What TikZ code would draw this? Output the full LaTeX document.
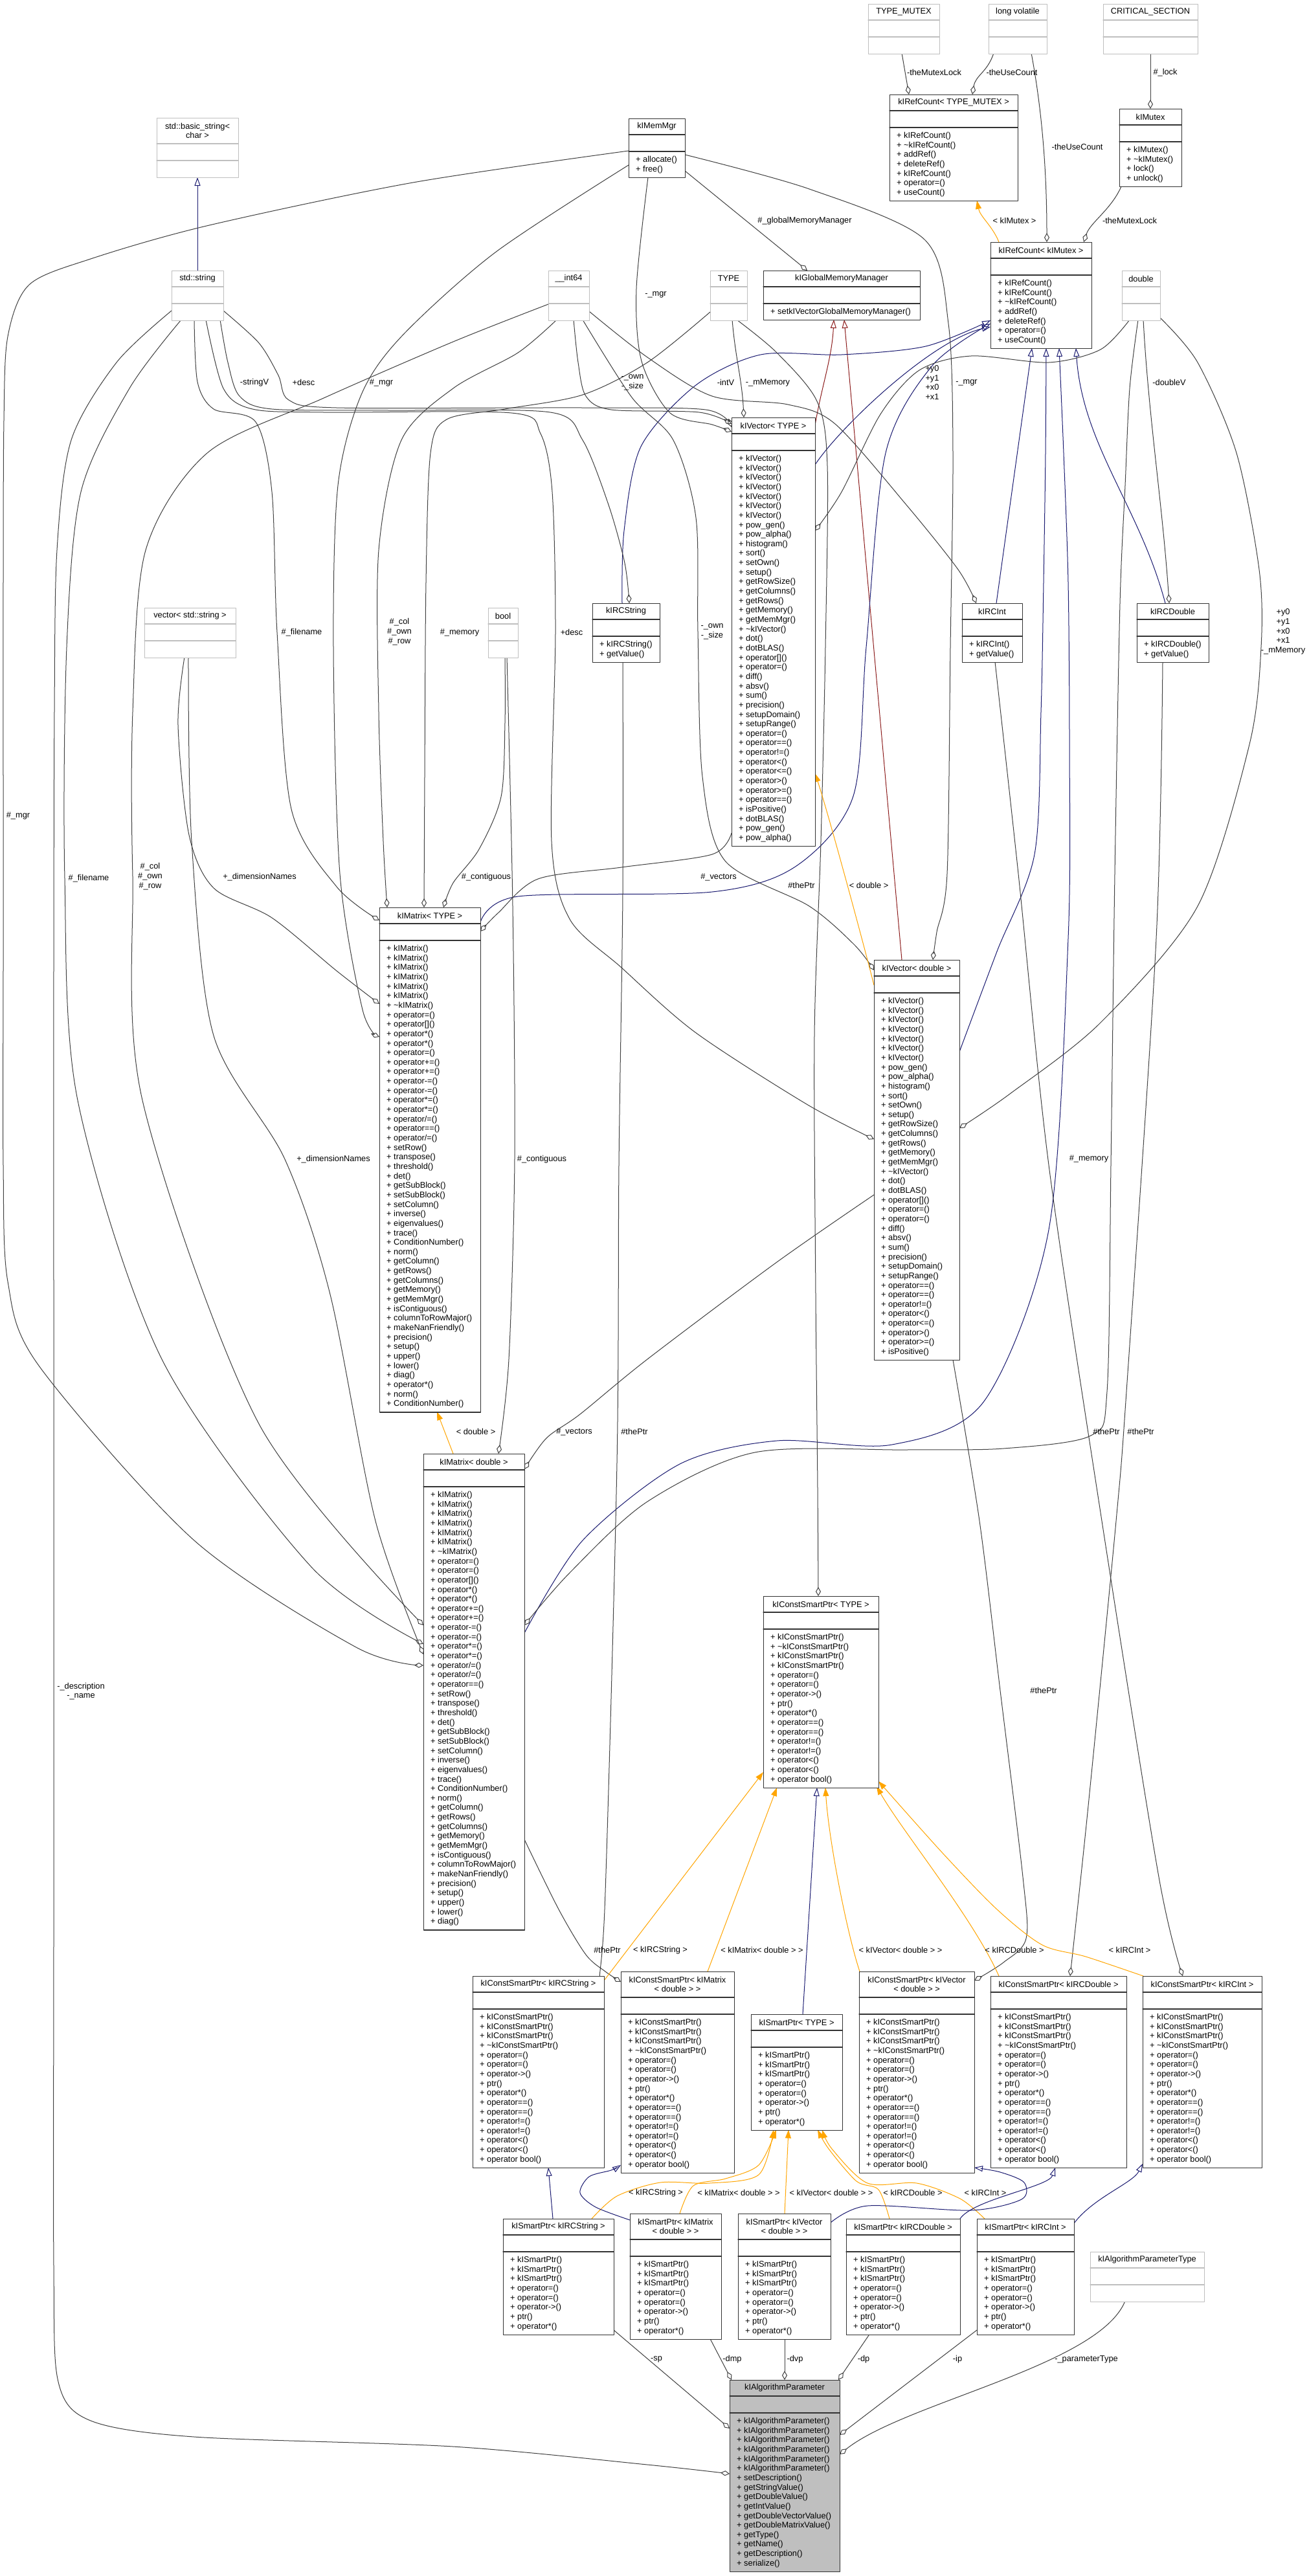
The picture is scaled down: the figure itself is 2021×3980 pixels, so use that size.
\documentclass[tikz,border=0pt]{standalone}
\usepackage{fontspec}
\setmainfont{Liberation Sans}
\usetikzlibrary{arrows.meta}
\pgfdeclarelayer{bg}
\pgfsetlayers{bg,main}

\definecolor{edgegray}{HTML}{404040}
\definecolor{navy}{HTML}{191970}
\definecolor{darkred}{HTML}{8B1A1A}
\definecolor{boxgray}{HTML}{BFBFBF}
\definecolor{tmplorange}{HTML}{FFA500}
\newcommand{\clsfont}{\fontsize{12.8}{14.65}\selectfont}

\tikzset{
  clsbox/.style={draw=black!80, line width=1.3pt, fill=white, inner sep=0pt, anchor=north west},
  clsboxline/.style={draw=black!80, line width=1.3pt},
  focbox/.style={clsbox, fill=boxgray},
  focboxline/.style={clsboxline},
  extbox/.style={draw=boxgray, line width=1.3pt, fill=white, inner sep=0pt, anchor=north west},
  extline/.style={draw=boxgray, line width=1.3pt},
  ttl/.style={inner sep=0pt, align=center},
  memb/.style={inner sep=0pt, align=left, anchor=north west},
  lbl/.style={inner sep=0pt, align=center},
  comp/.style={draw=edgegray, line width=1pt, -{Diamond[open, length=14pt, width=8pt]}},
  pub/.style={draw=navy, line width=1pt, -{Triangle[open, length=13pt, width=9pt]}},
  priv/.style={draw=darkred, line width=1pt, -{Triangle[open, length=13pt, width=9pt]}},
  tmpl/.style={draw=tmplorange, line width=1pt, -{Triangle[length=13pt, width=9pt]}},
}

% class box: [style] name, x, y, width, title height, member lines, title, members
\newcommand{\umlclass}[9][clsbox]{%
  \pgfmathsetmacro{\clsh}{#6+51+(#7-1)*14.65}%
  \node[#1, minimum width=#5pt, minimum height=\clsh pt] (#2) at (#3,#4) {};
  \draw[#1line] ([shift={(0,#6)}]#2.north west) -- ++(#5,0);
  \draw[#1line] ([shift={(0,#6+26)}]#2.north west) -- ++(#5,0);
  \node[ttl] (#2-t) at ([shift={(#5/2,#6/2)}]#2.north west) {#8};
  \node[memb] (#2-m) at ([shift={(11,#6+33)}]#2.north west) {#9};
}
% class without members: name, x, y, width, title height, title
\newcommand{\extclass}[6]{%
  \pgfmathsetmacro{\clsh}{#5+52}%
  \node[extbox, minimum width=#4pt, minimum height=\clsh pt] (#1) at (#2,#3) {};
  \draw[extline] ([shift={(0,#5)}]#1.north west) -- ++(#4,0);
  \draw[extline] ([shift={(0,#5+26)}]#1.north west) -- ++(#4,0);
  \node[ttl] (#1-t) at ([shift={(#4/2,#5/2)}]#1.north west) {#6};
}

\newcommand{\cspmembers}{+ kIConstSmartPtr()\\+ kIConstSmartPtr()\\+ kIConstSmartPtr()\\+ \textasciitilde kIConstSmartPtr()\\+ operator=()\\+ operator=()\\+ operator->()\\+ ptr()\\+ operator*()\\+ operator==()\\+ operator==()\\+ operator!=()\\+ operator!=()\\+ operator<()\\+ operator<()\\+ operator bool()}
\newcommand{\spmembers}{+ kISmartPtr()\\+ kISmartPtr()\\+ kISmartPtr()\\+ operator=()\\+ operator=()\\+ operator->()\\+ ptr()\\+ operator*()}

\begin{document}
\begin{tikzpicture}[x=1pt, y=-1pt, font=\clsfont, line join=round, line cap=round]
\useasboundingbox (0,0) rectangle (2021,3980);

% plain types
\extclass{tmx}{1341}{6}{110}{25}{TYPE\_MUTEX}
\extclass{lv}{1527}{6}{90}{25}{long volatile}
\extclass{cs}{1704}{6}{146}{25}{CRITICAL\_SECTION}
\extclass{bstr}{242}{182}{126}{40}{std::basic\_string<\\ char >}
\extclass{type}{1097}{418}{57}{25}{TYPE}
\extclass{dbl}{1733}{418}{59}{25}{double}
\extclass{sstr}{265}{418}{80}{25}{std::string}
\extclass{i64}{847}{418}{63}{25}{\_\_int64}
\extclass{vstr}{223}{939}{141}{25}{vector< std::string >}
\extclass{bool}{754}{939}{46}{25}{bool}
\extclass{ptype}{1684}{3479}{176}{25}{kIAlgorithmParameterType}

% classes
\umlclass{rcTM}{1374}{146}{198}{25}{7}{kIRefCount< TYPE\_MUTEX >}{+ kIRefCount()\\+ \textasciitilde kIRefCount()\\+ addRef()\\+ deleteRef()\\+ kIRefCount()\\+ operator=()\\+ useCount()}
\umlclass{mutex}{1729}{168}{96}{25}{4}{kIMutex}{+ kIMutex()\\+ \textasciitilde kIMutex()\\+ lock()\\+ unlock()}
\umlclass{memmgr}{971}{183}{87}{25}{2}{kIMemMgr}{+ allocate()\\+ free()}
\umlclass{rcMx}{1530}{374}{156}{25}{7}{kIRefCount< kIMutex >}{+ kIRefCount()\\+ kIRefCount()\\+ \textasciitilde kIRefCount()\\+ addRef()\\+ deleteRef()\\+ operator=()\\+ useCount()}
\umlclass{gmm}{1179}{418}{242}{25}{1}{kIGlobalMemoryManager}{+ setkIVectorGlobalMemoryManager()}
\umlclass{vecT}{1130}{645}{129}{25}{41}{kIVector< TYPE >}{+ kIVector()\\+ kIVector()\\+ kIVector()\\+ kIVector()\\+ kIVector()\\+ kIVector()\\+ kIVector()\\+ pow\_gen()\\+ pow\_alpha()\\+ histogram()\\+ sort()\\+ setOwn()\\+ setup()\\+ getRowSize()\\+ getColumns()\\+ getRows()\\+ getMemory()\\+ getMemMgr()\\+ \textasciitilde kIVector()\\+ dot()\\+ dotBLAS()\\+ operator[]()\\+ operator=()\\+ diff()\\+ absv()\\+ sum()\\+ precision()\\+ setupDomain()\\+ setupRange()\\+ operator=()\\+ operator==()\\+ operator!=()\\+ operator<()\\+ operator<=()\\+ operator>()\\+ operator>=()\\+ operator==()\\+ isPositive()\\+ dotBLAS()\\+ pow\_gen()\\+ pow\_alpha()}
\umlclass{rcint}{1486}{932}{93}{25}{2}{kIRCInt}{+ kIRCInt()\\+ getValue()}
\umlclass{rcdbl}{1756}{932}{111}{25}{2}{kIRCDouble}{+ kIRCDouble()\\+ getValue()}
\umlclass{rcstr}{915}{932}{104}{25}{2}{kIRCString}{+ kIRCString()\\+ getValue()}
\umlclass{matT}{586}{1402}{156}{25}{49}{kIMatrix< TYPE >}{+ kIMatrix()\\+ kIMatrix()\\+ kIMatrix()\\+ kIMatrix()\\+ kIMatrix()\\+ kIMatrix()\\+ \textasciitilde kIMatrix()\\+ operator=()\\+ operator[]()\\+ operator*()\\+ operator*()\\+ operator=()\\+ operator+=()\\+ operator+=()\\+ operator-=()\\+ operator-=()\\+ operator*=()\\+ operator*=()\\+ operator/=()\\+ operator==()\\+ operator/=()\\+ setRow()\\+ transpose()\\+ threshold()\\+ det()\\+ getSubBlock()\\+ setSubBlock()\\+ setColumn()\\+ inverse()\\+ eigenvalues()\\+ trace()\\+ ConditionNumber()\\+ norm()\\+ getColumn()\\+ getRows()\\+ getColumns()\\+ getMemory()\\+ getMemMgr()\\+ isContiguous()\\+ columnToRowMajor()\\+ makeNanFriendly()\\+ precision()\\+ setup()\\+ upper()\\+ lower()\\+ diag()\\+ operator*()\\+ norm()\\+ ConditionNumber()}
\umlclass{vecD}{1350}{1483}{132}{25}{38}{kIVector< double >}{+ kIVector()\\+ kIVector()\\+ kIVector()\\+ kIVector()\\+ kIVector()\\+ kIVector()\\+ kIVector()\\+ pow\_gen()\\+ pow\_alpha()\\+ histogram()\\+ sort()\\+ setOwn()\\+ setup()\\+ getRowSize()\\+ getColumns()\\+ getRows()\\+ getMemory()\\+ getMemMgr()\\+ \textasciitilde kIVector()\\+ dot()\\+ dotBLAS()\\+ operator[]()\\+ operator=()\\+ operator=()\\+ diff()\\+ absv()\\+ sum()\\+ precision()\\+ setupDomain()\\+ setupRange()\\+ operator==()\\+ operator==()\\+ operator!=()\\+ operator<()\\+ operator<=()\\+ operator>()\\+ operator>=()\\+ isPositive()}
\umlclass{matD}{654}{2246}{156}{25}{46}{kIMatrix< double >}{+ kIMatrix()\\+ kIMatrix()\\+ kIMatrix()\\+ kIMatrix()\\+ kIMatrix()\\+ kIMatrix()\\+ \textasciitilde kIMatrix()\\+ operator=()\\+ operator=()\\+ operator[]()\\+ operator*()\\+ operator*()\\+ operator+=()\\+ operator+=()\\+ operator-=()\\+ operator-=()\\+ operator*=()\\+ operator*=()\\+ operator/=()\\+ operator/=()\\+ operator==()\\+ setRow()\\+ transpose()\\+ threshold()\\+ det()\\+ getSubBlock()\\+ setSubBlock()\\+ setColumn()\\+ inverse()\\+ eigenvalues()\\+ trace()\\+ ConditionNumber()\\+ norm()\\+ getColumn()\\+ getRows()\\+ getColumns()\\+ getMemory()\\+ getMemMgr()\\+ isContiguous()\\+ columnToRowMajor()\\+ makeNanFriendly()\\+ precision()\\+ setup()\\+ upper()\\+ lower()\\+ diag()}
\umlclass{cspT}{1179}{2466}{178}{25}{16}{kIConstSmartPtr< TYPE >}{+ kIConstSmartPtr()\\+ \textasciitilde kIConstSmartPtr()\\+ kIConstSmartPtr()\\+ kIConstSmartPtr()\\+ operator=()\\+ operator=()\\+ operator->()\\+ ptr()\\+ operator*()\\+ operator==()\\+ operator==()\\+ operator!=()\\+ operator!=()\\+ operator<()\\+ operator<()\\+ operator bool()}
\umlclass{cspS}{730}{3053}{203}{25}{16}{kIConstSmartPtr< kIRCString >}{\cspmembers}
\umlclass{cspM}{959}{3046}{175}{40}{16}{kIConstSmartPtr< kIMatrix\\< double > >}{\cspmembers}
\umlclass{spT}{1160}{3112}{141}{25}{8}{kISmartPtr< TYPE >}{\spmembers}
\umlclass{cspV}{1327}{3046}{178}{40}{16}{kIConstSmartPtr< kIVector\\< double > >}{\cspmembers}
\umlclass{cspDb}{1530}{3053}{210}{25}{16}{kIConstSmartPtr< kIRCDouble >}{\cspmembers}
\umlclass{cspI}{1765}{3053}{184}{25}{16}{kIConstSmartPtr< kIRCInt >}{\cspmembers}
\umlclass{spS}{777}{3428}{171}{25}{8}{kISmartPtr< kIRCString >}{\spmembers}
\umlclass{spM}{973}{3420}{141}{40}{8}{kISmartPtr< kIMatrix\\< double > >}{\spmembers}
\umlclass{spV}{1140}{3420}{143}{40}{8}{kISmartPtr< kIVector\\< double > >}{\spmembers}
\umlclass{spDb}{1307}{3428}{176}{25}{8}{kISmartPtr< kIRCDouble >}{\spmembers}
\umlclass{spI}{1509}{3428}{150}{25}{8}{kISmartPtr< kIRCInt >}{\spmembers}
\umlclass[focbox]{param}{1127}{3677}{170}{25}{16}{kIAlgorithmParameter}{+ kIAlgorithmParameter()\\+ kIAlgorithmParameter()\\+ kIAlgorithmParameter()\\+ kIAlgorithmParameter()\\+ kIAlgorithmParameter()\\+ kIAlgorithmParameter()\\+ setDescription()\\+ getStringValue()\\+ getDoubleValue()\\+ getIntValue()\\+ getDoubleVectorValue()\\+ getDoubleMatrixValue()\\+ getType()\\+ getName()\\+ getDescription()\\+ serialize()}

\begin{pgfonlayer}{bg}
\fill[white] (0,0) rectangle (2021,3980);
% top rows
\draw[comp] ([shift={(52,76)}]tmx.north west) -- ([shift={(30,0)}]rcTM.north west);
\draw[comp] ([shift={(8,76)}]lv.north west) .. controls +(-10,30) and +(5,-30) .. ([shift={(128,0)}]rcTM.north west);
\draw[comp] ([shift={(66,76)}]lv.north west) .. controls +(15,80) and +(0,-120) .. ([shift={(87,0)}]rcMx.north west);
\draw[comp] ([shift={(73,76)}]cs.north west) -- ([shift={(48,0)}]mutex.north west);
\draw[comp] ([shift={(3,120)}]mutex.north west) .. controls +(-15,35) and +(10,-30) .. ([shift={(144,0)}]rcMx.north west);
\draw[tmpl] ([shift={(13,0)}]rcMx.north west) .. controls +(-10,-25) and +(5,25) .. ([shift={(135,163.9)}]rcTM.north west);
\draw[comp] ([shift={(87,81)}]memmgr.north west) -- ([shift={(68,0)}]gmm.north west);
\draw[priv] ([shift={(129,12)}]vecT.north west) .. controls +(10,-60) and +(-3,60) .. ([shift={(109,76)}]gmm.north west);
\draw[priv] ([shift={(43,0)}]vecD.north west) -- ([shift={(125,76)}]gmm.north west);
% inheritance of kIRefCount
\draw[pub] ([shift={(129,73)}]vecT.north west) .. controls +(40,-60) and +(-90,20) .. ([shift={(0,131)}]rcMx.north west);
\draw[pub] plot[smooth] coordinates {([shift={(156,23)}]matT.north west) (800,1385) (1100,1378) (1230,1338) (1318,1230) (1338,1000) (1368,700) (1440,565) ([shift={(0,126)}]rcMx.north west)};
\draw[pub] plot[smooth] coordinates {([shift={(46,0)}]rcstr.north west) (964,820) (990,690) (1075,595) (1175,548) (1300,548) (1430,535) ([shift={(0,121)}]rcMx.north west)};
\draw[pub] plot[smooth] coordinates {([shift={(132,142)}]vecD.north west) (1540,1470) (1598,1320) (1608,1100) (1612,900) (1615,700) ([shift={(86,163.9)}]rcMx.north west)};
\draw[pub] plot[smooth] coordinates {([shift={(156,277)}]matD.north west) (900,2380) (1050,2262) (1200,2226) (1378,2232) (1520,2165) (1620,1900) (1650,1450) (1652,1150) (1650,900) (1643,700) ([shift={(106,163.9)}]rcMx.north west)};
\draw[pub] ([shift={(53,0)}]rcint.north west) -- ([shift={(64,163.9)}]rcMx.north west);
\draw[pub] ([shift={(44,0)}]rcdbl.north west) .. controls +(-40,-150) and +(10,150) .. ([shift={(132,163.9)}]rcMx.north west);
\draw[pub] ([shift={(40,0)}]sstr.north west) -- ([shift={(63,92)}]bstr.north west);
% std::string
\draw[comp] plot[smooth] coordinates {([shift={(75,76)}]sstr.north west) (352,560) (370,612) (420,632) (600,634) (850,637) (900,680) (940,780) (965,870) ([shift={(57,0)}]rcstr.north west)};
\draw[comp] plot[smooth] coordinates {([shift={(80,62)}]sstr.north west) (400,530) (430,580) (446,618) (520,630) (900,630) (1090,633) ([shift={(0,15)}]vecT.north west)};
\draw[comp] plot[smooth] coordinates {([shift={(35,76)}]sstr.north west) (305,590) (330,632) (395,652) (420,760) (428,977) (450,1250) (520,1370) ([shift={(0,20)}]matT.north west)};
\draw[comp] plot[smooth] coordinates {([shift={(15,76)}]sstr.north west) (200,600) (125,760) (103,1000) (100,1357) (120,1700) (250,2100) (480,2420) ([shift={(0,294)}]matD.north west)};
\draw[comp] plot[smooth] coordinates {([shift={(0,62)}]sstr.north west) (180,560) (110,680) (88,850) (84,1100) (83,1500) (83,2000) (83,2500) (83,3000) (83,3500) (90,3680) (140,3740) (300,3765) (700,3780) (1000,3808) ([shift={(0,145)}]param.north west)};
\draw[comp] plot[smooth] coordinates {([shift={(53,76)}]sstr.north west) (345,600) (390,632) (500,637) (790,638) (835,670) (853,760) (858,977) (852,1300) (880,1420) (960,1495) (1074,1595) (1246,1706) ([shift={(0,277)}]vecD.north west)};
% __int64
\draw[comp] plot[smooth] coordinates {([shift={(39,76)}]i64.north west) (893,560) (905,612) (944,633) (1080,637) ([shift={(0,10)}]vecT.north west)};
\draw[comp] plot[smooth] coordinates {([shift={(13,76)}]i64.north west) (800,545) (700,600) (620,680) (585,850) (585,1100) (592,1300) ([shift={(12,0)}]matT.north west)};
\draw[comp] plot[smooth] coordinates {([shift={(0,52)}]i64.north west) (700,528) (500,615) (320,700) (225,850) (205,1100) (205,1354) (220,1700) (400,2200) ([shift={(0,265)}]matD.north west)};
\draw[comp] plot[smooth] coordinates {([shift={(53,76)}]i64.north west) (976,614) (1040,680) (1075,800) (1078,976) (1085,1200) (1120,1330) (1250,1400) (1320,1460) ([shift={(0,16)}]vecD.north west)};
\draw[comp] plot[smooth] coordinates {([shift={(63,63)}]i64.north west) (1000,552) (1100,612) (1217,625) (1290,655) (1400,780) (1480,880) ([shift={(22,0)}]rcint.north west)};
% TYPE
\draw[comp] ([shift={(34,76)}]type.north west) .. controls +(5,60) and +(-3,-60) .. ([shift={(19,0)}]vecT.north west);
\draw[comp] plot[smooth] coordinates {([shift={(0,64)}]type.north west) (1000,560) (900,610) (780,632) (690,648) (665,700) (658,900) (656,1200) ([shift={(69,0)}]matT.north west)};
\draw[comp] plot[smooth] coordinates {([shift={(41,76)}]type.north west) (1200,545) (1262,620) (1278,720) (1275,1000) (1268,1300) (1258,1600) (1260,2000) (1263,2300) ([shift={(85,0)}]cspT.north west)};
% kIMemMgr
\draw[comp] plot[smooth] coordinates {([shift={(30,90.65)}]memmgr.north west) (983,446) (991,558) (1035,638) (1100,656) ([shift={(0,22)}]vecT.north west)};
\draw[comp] plot[smooth] coordinates {([shift={(0,72)}]memmgr.north west) (765,390) (620,520) (558,610) (522,750) (515,1000) (525,1350) (560,1560) ([shift={(0,200)}]matT.north west)};
\draw[comp] plot[smooth] coordinates {([shift={(0,50)}]memmgr.north west) (638,282) (319,349) (140,400) (45,440) (12,520) (6,650) (5,900) (5,1200) (5,1500) (5,1800) (12,1980) (60,2110) (300,2380) (550,2545) ([shift={(0,327)}]matD.north west)};
\draw[comp] plot[smooth] coordinates {([shift={(87,56)}]memmgr.north west) (1250,292) (1428,370) (1465,500) (1472,700) (1468,1000) (1463,1350) (1447,1440) ([shift={(91,0)}]vecD.north west)};
% double
\draw[comp] ([shift={(33,76)}]dbl.north west) .. controls +(8,150) and +(-10,-150) .. ([shift={(50,0)}]rcdbl.north west);
\draw[comp] plot[smooth] coordinates {([shift={(12,76)}]dbl.north west) (1700,540) (1620,560) (1500,550) (1420,572) (1360,640) (1300,760) ([shift={(129,175)}]vecT.north west)};
\draw[comp] plot[smooth] coordinates {([shift={(59,73)}]dbl.north west) (1850,560) (1910,700) (1945,880) (1948,1000) (1930,1150) (1850,1400) (1700,1580) (1560,1690) ([shift={(132,260)}]vecD.north west)};
\draw[comp] plot[smooth] coordinates {([shift={(25,76)}]dbl.north west) (1745,600) (1738,750) (1730,932) (1722,1350) (1716,1800) (1710,2150) (1685,2218) (1550,2238) (1400,2240) (1166,2244) (1000,2320) (880,2430) ([shift={(156,265)}]matD.north west)};
% vector<std::string> and bool
\draw[comp] plot[smooth] coordinates {([shift={(62,76)}]vstr.north west) (275,1120) (292,1290) (330,1372) (420,1418) (520,1500) ([shift={(0,149)}]matT.north west)};
\draw[comp] plot[smooth] coordinates {([shift={(68,76)}]vstr.north west) (296,1300) (330,1600) (440,1791) (510,2000) (580,2350) ([shift={(0,310)}]matD.north west)};
\draw[comp] plot[smooth] coordinates {([shift={(26,76)}]bool.north west) (780,1117) (774,1231) (740,1312) (700,1364) ([shift={(99,0)}]matT.north west)};
\draw[comp] plot[smooth] coordinates {([shift={(29,76)}]bool.north west) (792,1400) (795,1790) (786,2100) ([shift={(116,0)}]matD.north west)};
% vectors and matrices
\draw[comp] plot[smooth] coordinates {([shift={(0,642)}]vecT.north west) (1100,1320) (960,1340) (831,1358) (770,1410) ([shift={(156,37)}]matT.north west)};
\draw[tmpl] ([shift={(0,39)}]vecD.north west) .. controls +(-15,-60) and +(20,60) .. ([shift={(129,550)}]vecT.north west);
\draw[comp] plot[smooth] coordinates {([shift={(0,363)}]vecD.north west) (1200,1950) (1000,2100) (896,2185) (844,2222) ([shift={(156,24)}]matD.north west)};
\draw[comp] plot[smooth] coordinates {([shift={(122,618)}]vecD.north west) (1513,2350) (1545,2612) (1580,2900) (1585,2995) (1550,3032) ([shift={(178,14)}]cspV.north west)};
\draw[comp] plot[smooth] coordinates {([shift={(156,596)}]matD.north west) (863,2950) (905,3020) (935,3046) ([shift={(0,16)}]cspM.north west)};
\draw[tmpl] ([shift={(46,0)}]matD.north west) -- ([shift={(89,779.2)}]matT.north west);
% value holders
\draw[comp] plot[smooth] coordinates {([shift={(47,90.65)}]rcstr.north west) (962,1380) (956,1800) (953,2260) (934,2950) ([shift={(191,0)}]cspS.north west)};
\draw[comp] plot[smooth] coordinates {([shift={(51,90.65)}]rcint.north west) (1573,1350) (1620,1800) (1702,2350) (1790,2900) ([shift={(62,0)}]cspI.north west)};
\draw[comp] plot[smooth] coordinates {([shift={(40,90.65)}]rcdbl.north west) (1786,1450) (1740,2150) (1724,2350) (1680,2800) ([shift={(123,0)}]cspDb.north west)};
% smart pointers
\draw[tmpl] ([shift={(203,7)}]cspS.north west) -- ([shift={(0,272)}]cspT.north west);
\draw[tmpl] ([shift={(134,0)}]cspM.north west) -- ([shift={(21,296)}]cspT.north west);
\draw[tmpl] ([shift={(1,0)}]cspV.north west) .. controls +(-20,-60) and +(5,80) .. ([shift={(96,296)}]cspT.north west);
\draw[tmpl] ([shift={(13,0)}]cspDb.north west) .. controls +(-40,-90) and +(40,70) .. ([shift={(175,294)}]cspT.north west);
\draw[tmpl] plot[smooth] coordinates {([shift={(1,0)}]cspI.north west) (1677,3023) (1610,3005) (1540,2950) (1456,2863) ([shift={(178,286)}]cspT.north west)};
\draw[pub] ([shift={(80,0)}]spT.north west) -- ([shift={(83,296)}]cspT.north west);
\draw[tmpl] plot[smooth] coordinates {([shift={(137,0)}]spS.north west) (953,3393) (1020,3372) (1096,3373) (1172,3360) ([shift={(35,178.55)}]spT.north west)};
\draw[tmpl] plot[smooth] coordinates {([shift={(77,0)}]spM.north west) (1071,3377) (1121,3366) (1172,3345) ([shift={(39,178.55)}]spT.north west)};
\draw[tmpl] ([shift={(72,0)}]spV.north west) -- ([shift={(58,178.55)}]spT.north west);
\draw[tmpl] plot[smooth] coordinates {([shift={(67,0)}]spDb.north west) (1357,3383) (1323,3370) (1280,3320) ([shift={(103,178.55)}]spT.north west)};
\draw[tmpl] plot[smooth] coordinates {([shift={(12,0)}]spI.north west) (1483,3397) (1416,3373) (1340,3373) (1285,3320) ([shift={(110,178.55)}]spT.north west)};
\draw[pub] ([shift={(77,0)}]spS.north west) -- ([shift={(117,296)}]cspS.north west);
\draw[pub] plot[smooth] coordinates {([shift={(0,10)}]spM.north west) (920,3410) (896,3388) (910,3363) (944,3353) ([shift={(0,299)}]cspM.north west)};
\draw[pub] plot[smooth] coordinates {([shift={(143,14)}]spV.north west) (1340,3408) (1500,3415) (1578,3398) (1582,3372) (1545,3356) ([shift={(178,303)}]cspV.north west)};
\draw[pub] ([shift={(176,0)}]spDb.north west) .. controls +(20,-30) and +(-10,30) .. ([shift={(100,296)}]cspDb.north west);
\draw[pub] ([shift={(150,7)}]spI.north west) .. controls +(30,-40) and +(-15,30) .. ([shift={(0,290)}]cspI.north west);
% parameter members
\draw[comp] ([shift={(171,172)}]spS.north west) -- ([shift={(0,75)}]param.north west);
\draw[comp] ([shift={(124,193.55)}]spM.north west) -- ([shift={(3,0)}]param.north west);
\draw[comp] ([shift={(72,193.55)}]spV.north west) -- ([shift={(85,0)}]param.north west);
\draw[comp] ([shift={(36,178.55)}]spDb.north west) -- ([shift={(168,0)}]param.north west);
\draw[comp] ([shift={(0,172)}]spI.north west) -- ([shift={(170,85)}]param.north west);
\draw[comp] ([shift={(54,76)}]ptype.north west) .. controls +(-40,100) and +(100,-80) .. ([shift={(170,115)}]param.north west);
\end{pgfonlayer}

% edge labels
\node[lbl] (lb-tml1) at (1443,112) {-theMutexLock};
\node[lbl] (lb-tuc1) at (1563,112) {-theUseCount};
\node[lbl] (lb-lock) at (1800,112) {\#\_lock};
\node[lbl] (lb-tuc2) at (1664,227) {-theUseCount};
\node[lbl] (lb-gmm) at (1243,341) {\#\_globalMemoryManager};
\node[lbl] (lb-kimx) at (1567,341) {< kIMutex >};
\node[lbl] (lb-tml2) at (1745,341) {-theMutexLock};
\node[lbl] (lb-mgr2) at (1013,455) {-\_mgr};
\node[lbl] (lb-strv) at (393,591) {-stringV};
\node[lbl] (lb-desc1) at (469,591) {+desc};
\node[lbl] (lb-mgr1) at (589,591) {\#\_mgr};
\node[lbl] (lb-own1) at (977,591) {-\_own\\-\_size};
\node[lbl] (lb-intv) at (1121,591) {-intV};
\node[lbl] (lb-mmem) at (1186,591) {-\_mMemory};
\node[lbl] (lb-xy1) at (1440,591) {+y0\\+y1\\+x0\\+x1};
\node[lbl] (lb-mgr3) at (1493,591) {-\_mgr};
\node[lbl] (lb-dblv) at (1806,591) {-doubleV};
\node[lbl] (lb-fn1) at (466,977) {\#\_filename};
\node[lbl] (lb-cor1) at (617,976) {\#\_col\\\#\_own\\\#\_row};
\node[lbl] (lb-mem1) at (710,977) {\#\_memory};
\node[lbl] (lb-desc2) at (883,977) {+desc};
\node[lbl] (lb-own2) at (1100,976) {-\_own\\-\_size};
\node[lbl] (lb-xy2) at (1982,976) {+y0\\+y1\\+x0\\+x1\\-\_mMemory};
\node[lbl] (lb-mgr4) at (28,1260) {\#\_mgr};
\node[lbl] (lb-fn2) at (137,1357) {\#\_filename};
\node[lbl] (lb-cor2) at (232,1354) {\#\_col\\\#\_own\\\#\_row};
\node[lbl] (lb-dim1) at (401,1355) {+\_dimensionNames};
\node[lbl] (lb-cont1) at (751,1355) {\#\_contiguous};
\node[lbl] (lb-vec1) at (1110,1355) {\#\_vectors};
\node[lbl] (lb-tp1) at (1238,1368) {\#thePtr};
\node[lbl] (lb-dbl1) at (1342,1368) {< double >};
\node[lbl] (lb-dim2) at (515,1791) {+\_dimensionNames};
\node[lbl] (lb-cont2) at (837,1791) {\#\_contiguous};
\node[lbl] (lb-mem2) at (1682,1790) {\#\_memory};
\node[lbl] (lb-dbl2) at (735,2212) {< double >};
\node[lbl] (lb-vec2) at (887,2212) {\#\_vectors};
\node[lbl] (lb-tp2) at (980,2212) {\#thePtr};
\node[lbl] (lb-tp3) at (1709,2212) {\#thePtr};
\node[lbl] (lb-tp4) at (1762,2212) {\#thePtr};
\node[lbl] (lb-tp5) at (1612,2612) {\#thePtr};
\node[lbl] (lb-descn) at (125,2613) {-\_description\\-\_name};
\node[lbl] (lb-tp6) at (938,3013) {\#thePtr};
\node[lbl] (lb-c1) at (1020,3013) {< kIRCString >};
\node[lbl] (lb-c2) at (1177,3013) {< kIMatrix< double > >};
\node[lbl] (lb-c3) at (1391,3013) {< kIVector< double > >};
\node[lbl] (lb-c4) at (1567,3013) {< kIRCDouble >};
\node[lbl] (lb-c5) at (1745,3013) {< kIRCInt >};
\node[lbl] (lb-s1) at (1013,3388) {< kIRCString >};
\node[lbl] (lb-s2) at (1141,3388) {< kIMatrix< double > >};
\node[lbl] (lb-s3) at (1284,3388) {< kIVector< double > >};
\node[lbl] (lb-s4) at (1410,3388) {< kIRCDouble >};
\node[lbl] (lb-s5) at (1522,3388) {< kIRCInt >};
\node[lbl] (lb-sp) at (1014,3645) {-sp};
\node[lbl] (lb-dmp) at (1131,3645) {-dmp};
\node[lbl] (lb-dvp) at (1228,3645) {-dvp};
\node[lbl] (lb-dp) at (1334,3645) {-dp};
\node[lbl] (lb-ip) at (1479,3645) {-ip};
\node[lbl] (lb-ptype) at (1678,3645) {-\_parameterType};
\end{tikzpicture}
\end{document}
